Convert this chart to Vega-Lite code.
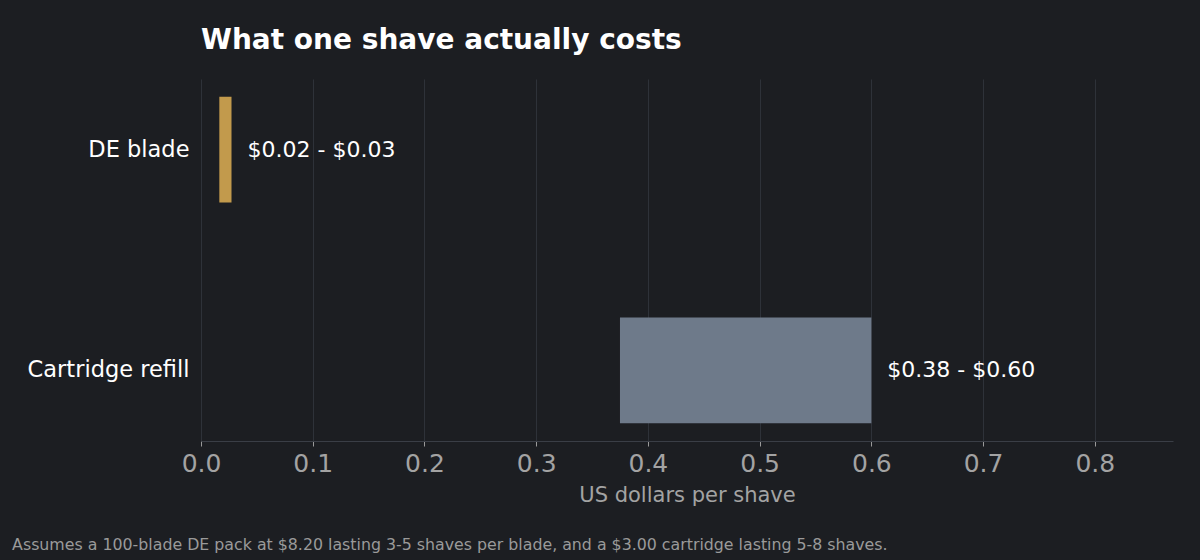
{
  "$schema": "https://vega.github.io/schema/vega-lite/v6.json",
  "background": "#1c1e22",
  "padding": {"left": 12, "top": 27, "right": 27, "bottom": 7},
  "config": {
    "font": "DejaVu Sans",
    "view": {"stroke": null},
    "concat": {"spacing": 0}
  },
  "title": {
    "text": "Assumes a 100-blade DE pack at $8.20 lasting 3-5 shaves per blade, and a $3.00 cartridge lasting 5-8 shaves.",
    "orient": "bottom",
    "anchor": "start",
    "frame": "bounds",
    "fontSize": 15.8,
    "fontWeight": "normal",
    "color": "#9a9a9a",
    "offset": 33,
    "dx": -15
  },
  "vconcat": [
    {
      "title": {
        "text": "What one shave actually costs",
        "anchor": "start",
        "frame": "group",
        "fontSize": 28,
        "fontWeight": "bold",
        "color": "#ffffff",
        "offset": 24
      },
      "width": 972,
      "height": 362,
      "data": {
        "values": [
          {"option": "DE blade", "low": 0.0164, "high": 0.0273, "label": "$0.02 - $0.03"},
          {"option": "Cartridge refill", "low": 0.375, "high": 0.6, "label": "$0.38 - $0.60"}
        ]
      },
      "encoding": {
        "y": {
          "field": "option",
          "type": "nominal",
          "sort": null,
          "scale": {"paddingInner": 0.52, "paddingOuter": 0.08},
          "axis": {
            "title": null,
            "ticks": false,
            "domain": false,
            "grid": false,
            "labelFontSize": 22.5,
            "labelColor": "#ffffff",
            "labelPadding": 12
          }
        }
      },
      "layer": [
        {
          "mark": {"type": "bar"},
          "encoding": {
            "x": {
              "field": "low",
              "type": "quantitative",
              "scale": {"domain": [0, 0.87], "nice": false},
              "axis": {
                "title": "US dollars per shave",
                "values": [0, 0.1, 0.2, 0.3, 0.4, 0.5, 0.6, 0.7, 0.8],
                "format": ".1f",
                "labelFlush": false,
                "grid": true,
                "gridColor": "#2e3239",
                "domainColor": "#3a3e46",
                "tickColor": "#9a9a9a",
                "tickSize": 5,
                "labelFontSize": 25,
                "labelColor": "#a3a3a3",
                "labelPadding": 5,
                "titleFontSize": 21,
                "titleFontWeight": "normal",
                "titleColor": "#a3a3a3",
                "titlePadding": 8
              }
            },
            "x2": {"field": "high"},
            "color": {
              "field": "option",
              "type": "nominal",
              "legend": null,
              "scale": {"domain": ["DE blade", "Cartridge refill"], "range": ["#c29a4c", "#6e7a8a"]}
            }
          }
        },
        {
          "mark": {"type": "text", "align": "left", "dx": 16, "fontSize": 22, "color": "#ffffff"},
          "encoding": {
            "x": {"field": "high", "type": "quantitative"},
            "text": {"field": "label", "type": "nominal"}
          }
        }
      ]
    }
  ]
}
